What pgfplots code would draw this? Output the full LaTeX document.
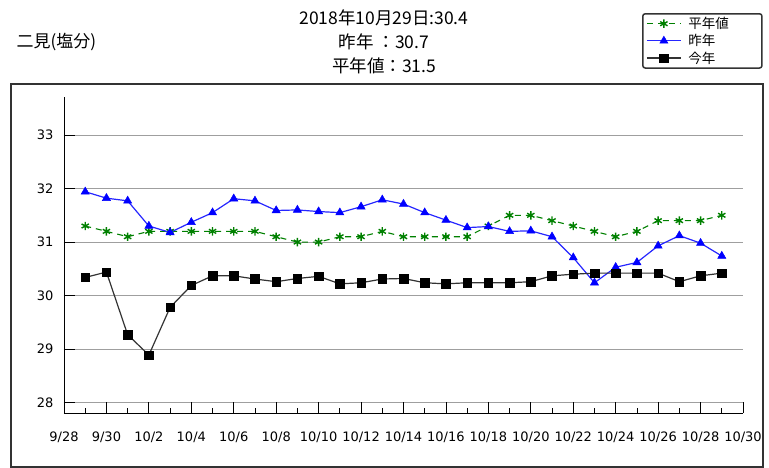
\documentclass[border=0pt]{standalone}
\usepackage{fontspec}
\setmainfont{DejaVu Sans}
\newfontfamily\jp{Noto Sans CJK JP}
\usepackage{pgfplots}
\pgfplotsset{compat=1.18}
\usepackage{pgfplotstable}
\definecolor{avggreen}{HTML}{008000}
\definecolor{lastblue}{HTML}{0000FF}

% x: 0 = 9/28, 1 = 9/29, ..., 32 = 10/30
\pgfplotstableread{
x y
1 31.3
2 31.2
3 31.1
4 31.2
5 31.2
6 31.2
7 31.2
8 31.2
9 31.2
10 31.1
11 31.0
12 31.0
13 31.1
14 31.1
15 31.2
16 31.1
17 31.1
18 31.1
19 31.1
20 31.3
21 31.5
22 31.5
23 31.4
24 31.3
25 31.2
26 31.1
27 31.2
28 31.4
29 31.4
30 31.4
31 31.5
}\avgtable

\pgfplotstableread{
x y
1 31.94
2 31.82
3 31.77
4 31.30
5 31.18
6 31.37
7 31.55
8 31.81
9 31.77
10 31.59
11 31.60
12 31.57
13 31.55
14 31.66
15 31.79
16 31.71
17 31.55
18 31.41
19 31.27
20 31.29
21 31.20
22 31.21
23 31.10
24 30.71
25 30.24
26 30.53
27 30.62
28 30.93
29 31.12
30 30.98
31 30.74
}\lasttable

\pgfplotstableread{
x y
1 30.34
2 30.44
3 29.27
4 28.89
5 29.78
6 30.19
7 30.37
8 30.37
9 30.31
10 30.26
11 30.32
12 30.36
13 30.22
14 30.24
15 30.31
16 30.32
17 30.24
18 30.22
19 30.24
20 30.24
21 30.24
22 30.26
23 30.37
24 30.40
25 30.42
26 30.42
27 30.42
28 30.42
29 30.26
30 30.37
31 30.42
}\thistable

\begin{document}
\begin{tikzpicture}[x=1pt,y=1pt]
\path[use as bounding box] (0,0) rectangle (769,468);
\draw[line width=2pt, black!80] (11,1.3) rectangle (763,384);
\node[anchor=west, font=\jp\fontsize{17}{20}\selectfont] at (13,426) {二見(塩分)};
\node[align=center, font=\jp\fontsize{17.5}{23.7}\selectfont] at (384,426) {2018年10月29日:30.4\\昨年 ：30.7\\平年値：31.5};
\begin{axis}[
  at={(64pt,55pt)}, anchor=south west,
  scale only axis, width=679pt, height=316.3pt,
  xmin=0, xmax=32, ymin=27.808, ymax=33.715,
  axis x line=bottom, axis y line=left,
  axis line style={-, black, line width=0.8pt},
  xtick={0,2,...,32},
  xticklabels={9/28,9/30,10/2,10/4,10/6,10/8,10/10,10/12,10/14,10/16,10/18,10/20,10/22,10/24,10/26,10/28,10/30},
  minor xtick={1,3,...,31},
  ytick={28,29,30,31,32,33},
  tick align=inside,
  major tick length=10.5pt, minor tick length=5pt,
  tick style={black, line width=0.8pt},
  ymajorgrids,
  grid style={gray!75, line width=0.8pt},
  /pgf/number format/assume math mode=true,
  tick label style={font=\fontsize{13}{15}\selectfont, black},
  xticklabel style={anchor=base, yshift=-28.4pt},
  yticklabel style={anchor=east, xshift=-7pt},
  clip=false,
  legend image code/.code={\draw[mark repeat=2,mark phase=2] plot coordinates {(0pt,0pt) (17pt,0pt) (34pt,0pt)};},
  legend style={at={(0.8513,1.2646)}, anchor=north west, draw=black!80, line width=1.5pt, rounded corners=2.5pt,
    font=\jp\fontsize{13.5}{15}\selectfont, inner xsep=3.5pt, inner ysep=1.5pt, row sep=0.3pt},
  legend cell align=left,
]
\addplot[color=avggreen, line width=1.1pt, dash pattern=on 6pt off 5pt, mark=asterisk, mark size=4.2pt, mark options={solid, line width=1.4pt}] table[x=x,y=y] {\avgtable};
\addlegendentry{\hspace*{5pt}\makebox[68pt][l]{平年値}}
\addplot[color=lastblue!85, line width=1.2pt, mark=triangle*, mark size=4.7pt, mark options={fill=lastblue, draw=lastblue, line width=0.5pt}] table[x=x,y=y] {\lasttable};
\addlegendentry{\hspace*{5pt}\makebox[68pt][l]{昨年}}
\addplot[color=black!80, line width=1.2pt, mark=square*, mark size=4.3pt, mark options={fill=black, draw=black, line width=0.5pt}] table[x=x,y=y] {\thistable};
\addlegendentry{\hspace*{5pt}\makebox[68pt][l]{今年}}
\end{axis}
\end{tikzpicture}
\end{document}
